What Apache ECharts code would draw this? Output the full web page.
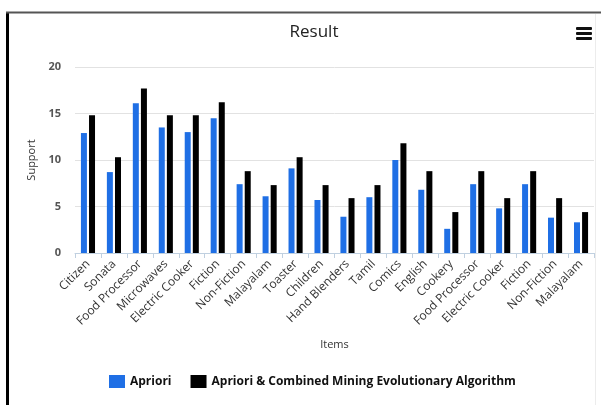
<!DOCTYPE html>
<html>
<head>
<meta charset="utf-8">
<script src="https://cdn.jsdelivr.net/npm/echarts@6/dist/echarts.min.js"></script>
<style>
  html, body { margin: 0; padding: 0; background: #fff; }
  #chart { width: 601px; height: 405px; }
</style>
</head>
<body>
<div id="chart"></div>
<script>
// Support of frequent items found by each algorithm
const categories = ['Citizen', 'Sonata', 'Food Processor', 'Microwaves', 'Electric Cooker',
  'Fiction', 'Non-Fiction', 'Malayalam', 'Toaster', 'Children', 'Hand Blenders', 'Tamil',
  'Comics', 'English', 'Cookery', 'Food Processor', 'Electric Cooker', 'Fiction',
  'Non-Fiction', 'Malayalam'];
const apriori = [12.9, 8.7, 16.1, 13.5, 13.0, 14.5, 7.4, 6.1, 9.1, 5.7, 3.9, 6.0,
  10.0, 6.8, 2.6, 7.4, 4.8, 7.4, 3.8, 3.3];
const combined = [14.8, 10.3, 17.7, 14.8, 14.8, 16.2, 8.8, 7.3, 10.3, 7.3, 5.9, 7.3,
  11.8, 8.8, 4.4, 8.8, 5.9, 8.8, 5.9, 4.4];
const seriesNames = ['Apriori', 'Apriori & Combined Mining Evolutionary Algorithm'];

const FONT = 'Open Sans';
const chart = echarts.init(document.getElementById('chart'), null, { renderer: 'canvas' });

chart.setOption({
  animation: false,
  backgroundColor: '#fff',
  title: {
    text: 'Result',
    left: 309,
    top: 19,
    textAlign: 'center',
    textStyle: { fontFamily: FONT, fontSize: 17, fontWeight: 'normal', color: '#222' }
  },
  legend: {
    left: 104,
    top: 370,
    icon: 'rect',
    itemWidth: 16,
    itemHeight: 13,
    itemGap: 19,
    textStyle: { fontFamily: FONT, fontSize: 12, fontWeight: 'bold', color: '#111' },
    data: seriesNames
  },
  grid: { left: 75, right: 7, top: 67, bottom: 152, containLabel: false },
  xAxis: {
    type: 'category',
    data: categories,
    name: 'Items',
    nameLocation: 'middle',
    nameGap: 86,
    nameTextStyle: { fontFamily: FONT, fontSize: 11, color: '#333' },
    axisLine: { lineStyle: { color: '#c0d0e0', width: 1 } },
    axisTick: { show: true, length: 5, lineStyle: { color: '#c0d0e0' } },
    axisLabel: {
      interval: 0,
      rotate: 45,
      margin: 9,
      fontFamily: FONT,
      fontSize: 12,
      color: '#333'
    }
  },
  yAxis: {
    type: 'value',
    min: 0,
    max: 20,
    interval: 5,
    name: 'Support',
    nameLocation: 'middle',
    nameGap: 36,
    nameTextStyle: { fontFamily: FONT, fontSize: 11, color: '#333' },
    axisLine: { show: false },
    axisTick: { show: false },
    axisLabel: { margin: 14, fontFamily: FONT, fontSize: 11, fontWeight: 'bold', color: '#555' },
    splitLine: { lineStyle: { color: '#e2e2e2', width: 1 } }
  },
  series: [
    {
      name: seriesNames[0],
      type: 'bar',
      data: apriori,
      barWidth: 6,
      barGap: '35%',
      itemStyle: { color: '#1f6fe5' }
    },
    {
      name: seriesNames[1],
      type: 'bar',
      data: combined,
      barWidth: 6,
      barGap: '35%',
      itemStyle: { color: '#000' }
    }
  ],
  graphic: [
    // outer frame
    { type: 'line', shape: { x1: 7.5, y1: 12, x2: 7.5, y2: 405 }, style: { stroke: '#000', lineWidth: 3 }, silent: true },
    { type: 'line', shape: { x1: 6, y1: 12.5, x2: 601, y2: 12.5 }, style: { stroke: '#555', lineWidth: 2 }, silent: true },
    { type: 'line', shape: { x1: 595.5, y1: 14, x2: 595.5, y2: 405 }, style: { stroke: '#ececec', lineWidth: 1 }, silent: true },
    // menu icon
    { type: 'rect', shape: { x: 576, y: 27, width: 16, height: 3, r: 1 }, style: { fill: '#111' }, silent: true },
    { type: 'rect', shape: { x: 576, y: 32, width: 16, height: 3, r: 1 }, style: { fill: '#111' }, silent: true },
    { type: 'rect', shape: { x: 576, y: 37, width: 16, height: 3, r: 1 }, style: { fill: '#111' }, silent: true }
  ]
});
</script>
</body>
</html>
